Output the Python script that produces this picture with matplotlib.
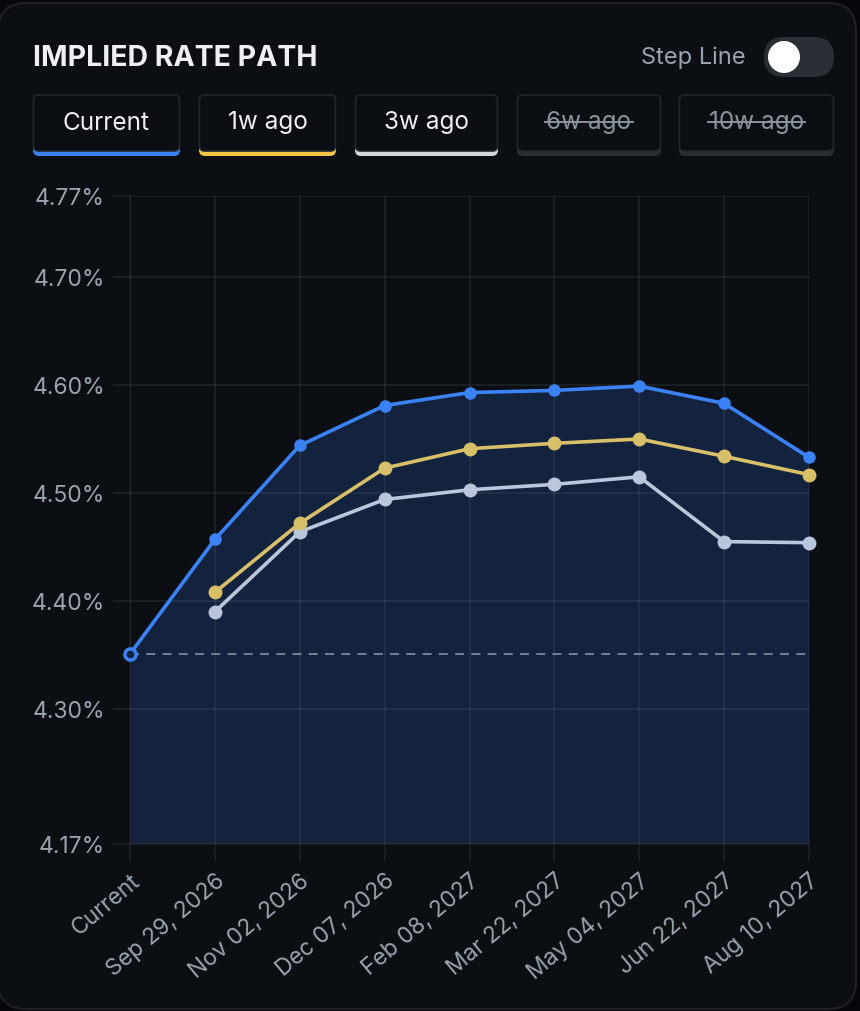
import numpy as np
import matplotlib.pyplot as plt
from matplotlib.patches import FancyBboxPatch, Circle
from matplotlib.lines import Line2D
from matplotlib.transforms import IdentityTransform

plt.rcParams['font.family'] = ['Inter', 'DejaVu Sans']

# ---- data ----
dates = ['Current', 'Sep 29, 2026', 'Nov 02, 2026', 'Dec 07, 2026', 'Feb 08, 2027',
         'Mar 22, 2027', 'May 04, 2027', 'Jun 22, 2027', 'Aug 10, 2027']
current = [4.351, 4.457, 4.544, 4.581, 4.593, 4.595, 4.599, 4.583, 4.533]
week1 = [np.nan, 4.408, 4.472, 4.523, 4.541, 4.546, 4.550, 4.534, 4.517]
week3 = [np.nan, 4.390, 4.464, 4.494, 4.503, 4.508, 4.515, 4.455, 4.454]
spot_rate = 4.351
ytick_vals = [4.175, 4.30, 4.40, 4.50, 4.60, 4.70, 4.775]
ytick_labels = ['4.17%', '4.30%', '4.40%', '4.50%', '4.60%', '4.70%', '4.77%']
buttons = ['Current', '1w ago', '3w ago', '6w ago', '10w ago']
button_active = [True, True, True, False, False]

BG_OUT = '#05070a'
CARD = '#0b0e13'
BORDER = '#1e2127'
BLUE = '#3b82f6'
YELLOW = '#d8bf6a'
LIGHT = '#b9c6dc'
TXT = '#9aa3ae'
GRID = '#1c2027'

W, H = 860, 1012
fig = plt.figure(figsize=(W / 100, H / 100), dpi=100, facecolor=BG_OUT)
px = IdentityTransform()


def box(x0, ytop, w, h, fc, ec='none', r=6, lw=1.0, z=1):
    p = FancyBboxPatch((x0, H - ytop - h), w, h, boxstyle=f'round,pad=0,rounding_size={r}',
                       fc=fc, ec=ec, lw=lw, transform=px, zorder=z)
    fig.add_artist(p)
    return p


# card
box(-2, 4, 858, 1006, CARD, BORDER, r=28, lw=1.5, z=0)

# title + toggle
fig.text(33 / W, 1 - 59 / H, 'IMPLIED RATE PATH', color='#eef0f3', fontsize=20.5,
         fontweight='bold', va='center', ha='left')
fig.text(746 / W, 1 - 58 / H, 'Step Line', color=TXT, fontsize=17, va='center', ha='right')
box(764, 38, 70, 40, '#2a2e35', r=20, z=2)
fig.add_artist(Circle((784, H - 58), 16, fc='white', ec='none', transform=px, zorder=3))

# series buttons
btn_x = [33, 199, 355, 517, 679]
btn_w = [147, 137, 143, 144, 155]
btn_col = [BLUE, '#f2c544', '#d4d7dc', '#2a2e35', '#2a2e35']
for lbl, x0, w, c, on in zip(buttons, btn_x, btn_w, btn_col, button_active):
    box(x0, 96, w, 61, c, r=6, z=2)
    box(x0 + 0.5, 96, w - 1, 56, CARD, '#23272e', r=5, lw=1.2, z=3)
    t = fig.text((x0 + w / 2) / W, 1 - 123 / H, lbl, color='#eef0f3' if on else '#8b939d',
                 fontsize=17.5, ha='center', va='center', zorder=4)
    if not on:
        fig.canvas.draw()
        bb = t.get_window_extent()
        fig.add_artist(Line2D([bb.x0 - 1, bb.x1 + 1], [H - 123] * 2, color='#8b939d', lw=1.4,
                              transform=px, zorder=5))

# ---- chart ----
ax = fig.add_axes([130 / W, 1 - 845 / H, 679 / W, 648 / H])
ax.set_facecolor(CARD)
x = np.arange(len(dates))
ax.set_xlim(0, len(dates) - 1)
ax.set_ylim(ytick_vals[0], ytick_vals[-1])

ax.fill_between(x, current, ytick_vals[0], color='#13223d', zorder=1, lw=0)
ax.grid(True, color='white', alpha=0.075, lw=1.2, zorder=2)
ax.set_axisbelow(False)
ax.axhline(spot_rate, color='#7b889c', lw=1.3, ls=(0, (5, 4)), zorder=3)

ax.plot(x, week3, color=LIGHT, lw=2.6, marker='o', ms=9, zorder=4, clip_on=False)
ax.plot(x, week1, color=YELLOW, lw=2.6, marker='o', ms=9, zorder=5, clip_on=False)
ax.plot(x, current, color=BLUE, lw=2.6, marker='o', ms=8, zorder=6, clip_on=False)
ax.plot(x[:1], current[:1], ls='none', marker='o', ms=8, mfc='#13223d', mec=BLUE, mew=2.5,
        zorder=7, clip_on=False)

ax.set_yticks(ytick_vals)
ax.set_yticklabels(ytick_labels)
ax.set_xticks(x)
ax.set_xticklabels(dates, rotation=40, ha='right', rotation_mode='anchor')
ax.tick_params(axis='both', colors=GRID, labelcolor=TXT, labelsize=16.5, width=1.2)
ax.tick_params(axis='y', length=12, pad=6)
ax.tick_params(axis='x', length=13, pad=5)
for s in ['top', 'right']:
    ax.spines[s].set_visible(False)
for s in ['left', 'bottom']:
    ax.spines[s].set_color('#181c22')
    ax.spines[s].set_linewidth(1.2)

fig.savefig('out.png', dpi=100, facecolor=BG_OUT)
